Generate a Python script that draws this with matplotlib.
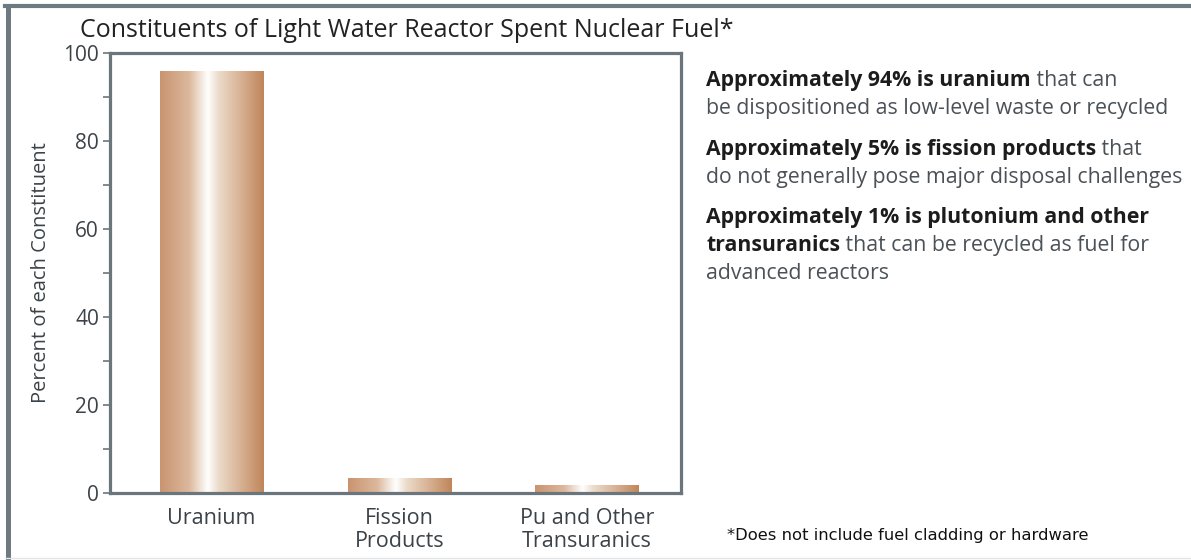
import numpy as np
import matplotlib
matplotlib.use("Agg")
import matplotlib.pyplot as plt
from matplotlib.colors import LinearSegmentedColormap
from matplotlib.lines import Line2D

# Share of each constituent in spent fuel (percent)
categories = ["Uranium", "Fission\nProducts", "Pu and Other\nTransuranics"]
percents = [95.8, 3.2, 1.8]

yticks = [0, 20, 40, 60, 80, 100]
minor_yticks = [10, 30, 50, 70, 90]

# right-hand notes: (bold part, regular tail) per line
note_lines = [
    ("Approximately 94% is uranium", " that can"),
    ("", "be dispositioned as low-level waste or recycled"),
    ("Approximately 5% is fission products", " that"),
    ("", "do not generally pose major disposal challenges"),
    ("Approximately 1% is plutonium and other", ""),
    ("transuranics", " that can be recycled as fuel for"),
    ("", "advanced reactors"),
]
footnote = "*Does not include fuel cladding or hardware"

plt.rcParams["font.family"] = ["Open Sans", "DejaVu Sans"]

spine_col = "#6b757c"
text_col = "#3b4349"
W, H = 1191, 560

fig = plt.figure(figsize=(W / 100, H / 100), dpi=100)
ax = fig.add_axes([110 / W, 1 - 493 / H, 571 / W, 440 / H])

# copper gradient running across each bar
copper = LinearSegmentedColormap.from_list("copper_bar", [
    (0.00, "#c99470"),
    (0.28, "#dcb89c"),
    (0.46, "#ffffff"),
    (0.56, "#ecdccb"),
    (0.80, "#d5ad8e"),
    (1.00, "#c0855a"),
])
grad = np.linspace(0, 1, 256).reshape(1, -1)
width = 0.55
x = np.arange(len(categories))
for xi, v in zip(x, percents):
    ax.imshow(grad, cmap=copper, aspect="auto", interpolation="bicubic",
              extent=(xi - width / 2, xi + width / 2, 0, v), zorder=2)

ax.set_xlim(-0.54, 2.50)
ax.set_ylim(0, 100)
ax.set_xticks(x)
ax.set_xticklabels(categories, fontsize=15.5, color=text_col, linespacing=1.1)
ax.tick_params(axis="x", length=0, pad=11)
ax.set_yticks(yticks)
ax.set_yticks(minor_yticks, minor=True)
ax.tick_params(axis="y", which="both", direction="out", length=5, width=1.2,
               color=spine_col, labelsize=15, labelcolor=text_col, pad=3)
ax.set_ylabel("Percent of each Constituent", fontsize=14.5, color=text_col,
              labelpad=9)
for s in ax.spines.values():
    s.set_color(spine_col)
    s.set_linewidth(2.3)

fig.text(80 / W, 1 - 37 / H,
         "Constituents of Light Water Reactor Spent Nuclear Fuel*",
         fontsize=18, color="#222222", va="baseline")

# explanatory notes on the right
bold_col = "#1c1c1c"
reg_col = "#4a5157"
x0 = 706 / W
fs = 15.3
line_y = [86, 114, 155, 183, 223, 251, 279]
for (bold, tail), yy in zip(note_lines, line_y):
    y = 1 - yy / H
    if bold:
        t = fig.text(x0, y, bold, fontsize=fs, fontweight="bold",
                     color=bold_col, va="baseline")
        if tail:
            ax.annotate(tail, xy=(1, 0), xycoords=t, fontsize=fs,
                        color=reg_col, va="bottom", ha="left",
                        annotation_clip=False)
    else:
        fig.text(x0, y, tail, fontsize=fs, color=reg_col, va="baseline")

fig.text(727 / W, 1 - 540 / H, footnote, fontsize=11.8, color="#111111",
         family="DejaVu Sans", va="baseline")

# outer frame edges
fig.add_artist(Line2D([7.5 / W, 7.5 / W], [0, 1 - 6 / H], color="#6e7a82",
                      lw=3.6))
fig.add_artist(Line2D([5 / W, 1], [1 - 6 / H, 1 - 6 / H], color="#6e7a82",
                      lw=3.0))
fig.add_artist(Line2D([5 / W, 1], [1 - 558 / H, 1 - 558 / H],
                      color="#e2e4e5", lw=1.0))

fig.savefig("out.png", dpi=100)
